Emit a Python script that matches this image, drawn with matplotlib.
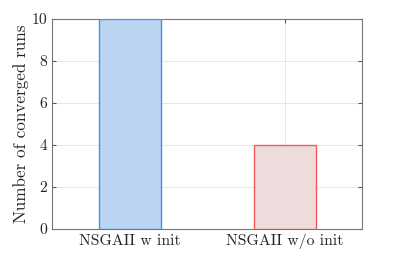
import matplotlib
matplotlib.use("Agg")
import matplotlib.pyplot as plt

labels = ["NSGAII w init", "NSGAII w/o init"]
converged = [10, 4]
face_colors = ["#BBD4F2", "#EEDCDD"]
edge_colors = ["#3D97DC", "#F25A5A"]

plt.rcParams["font.family"] = "cmr10"
plt.rcParams["axes.formatter.use_mathtext"] = True

fig = plt.figure(figsize=(3.99, 2.58), dpi=100)
ax = fig.add_axes([52 / 399, 1 - 229 / 258, 310 / 399, 210 / 258])

xs = [1, 2]
ax.bar(xs, converged, width=0.4, color=face_colors, edgecolor=edge_colors, linewidth=1.0, zorder=3)

ax.set_xlim(0.5, 2.5)
ax.set_ylim(0, 10)
ax.set_xticks(xs)
ax.set_xticklabels(labels, color="#262626")
ax.set_yticks(range(0, 11, 2))
ax.set_yticklabels([str(v) for v in range(0, 11, 2)], color="#262626")
ax.set_ylabel("Number of converged runs", fontsize=12.3, labelpad=2, color="#262626")
ax.tick_params(direction="in", top=True, right=True, labelsize=11.3, length=3, color="#555555")
ax.grid(True, color="#E6E6E6", linewidth=0.7, zorder=0)
for s in ax.spines.values():
    s.set_color("#777777")
    s.set_linewidth(0.8)

fig.savefig("out.png", dpi=100)
